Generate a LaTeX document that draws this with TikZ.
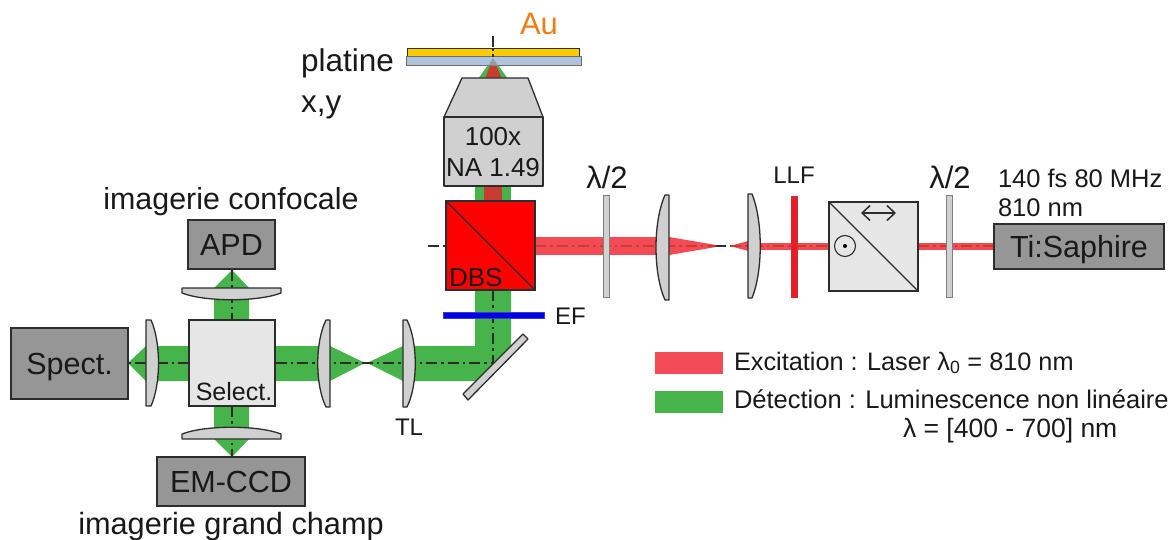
\documentclass[tikz,border=0pt]{standalone}
\usepackage{fontspec}
\setmainfont{Liberation Sans}
\usetikzlibrary{arrows.meta}
\definecolor{beamgreen}{RGB}{70,180,74}
\definecolor{beamred}{RGB}{243,75,85}
\definecolor{darkred}{RGB}{200,60,50}
\definecolor{edge}{RGB}{45,45,45}
\definecolor{optgray}{RGB}{208,208,208}
\definecolor{boxgray}{RGB}{150,150,150}
\definecolor{cubegray}{RGB}{230,230,230}
\tikzset{
  boxlabel/.style={font=\fontsize{#1}{#1}\selectfont,anchor=base,inner sep=0pt,outer sep=0pt,text=black!90},
  instr/.style={draw=edge,line width=1.3pt,fill=boxgray},
  optic/.style={draw=edge,line width=1.3pt,fill=optgray,line join=round},
  plate/.style={draw=black!50,line width=1pt,fill=optgray},
  axisline/.style={line width=1.3pt,draw=edge,dash pattern=on 11pt off 4pt on 2.5pt off 4pt},
  axisred/.style={line width=1.3pt,draw=darkred,dash pattern=on 11pt off 4pt on 2.5pt off 4pt},
  txt/.style={font=\fontsize{#1}{#1}\selectfont,inner sep=0pt,outer sep=0pt,text=black!90}
}
\newcommand{\instrbox}[6]{% name, x0,y0,x1,y1, text
  \draw[instr] (#2,#3) rectangle (#4,#5);
  \node[boxlabel=30.5] (#1) at ({(#2+#4)/2},{(#3+#5)/2+11}) {#6};
}
\begin{document}
\begin{tikzpicture}[x=1pt,y=-1pt]
\useasboundingbox (0,0) rectangle (1175,540);
% green beams
\fill[beamgreen] (493,58) -- (508,79) -- (478,79) -- cycle;
\fill[beamgreen] (475,186) rectangle (511,201);
\fill[beamgreen] (415,346) -- (475,346) -- (475,290) -- (511,290) -- (511,350) -- (479,381) -- (415,381) -- cycle;
\fill[beamgreen] (365,363) -- (330,346) -- (320,346) -- (275,346) -- (275,381) -- (330,381) -- cycle;
\fill[beamgreen] (367,363) -- (403,346) -- (403,381) -- cycle;
\fill[beamgreen] (128,363) -- (146,346) -- (189,346) -- (189,381) -- (146,381) -- cycle;
\fill[beamgreen] (232,270) -- (249,288) -- (249,320) -- (214,320) -- (214,288) -- cycle;
\fill[beamgreen] (214,406) rectangle (249,439);
\fill[beamgreen] (214,439) -- (249,439) -- (232,457) -- cycle;
% red beams
\fill[darkred] (493,58) -- (502,79) -- (485,79) -- cycle;
\fill[darkred] (484,186) rectangle (502,201);
\fill[beamred] (535,237) rectangle (660,255);
\fill[beamred] (669,237) -- (722,246) -- (669,255) -- cycle;
\fill[beamred] (730,246) -- (748,241) -- (748,251) -- cycle;
\fill[beamred] (759,243) rectangle (829,250);
\fill[beamred] (918,243) rectangle (994,250);
% axes
\coordinate (axTop) at (493,36);
\coordinate (axObj) at (493,64);
\coordinate (axRedA) at (493,186);
\coordinate (axRedB) at (493,201);
\coordinate (axLeftA) at (428,246);
\coordinate (axLeftB) at (446,246);
\coordinate (axBendV) at (493,290);
\coordinate (axBend) at (493,363);
\coordinate (axSel) at (275,363);
\coordinate (axSelL) at (189,363);
\coordinate (axSpec) at (128,363);
\draw[axisline] (axTop) -- (axObj);
\draw[axisred] (axRedA) -- (axRedB);
\draw[axisline] (axLeftA) -- (axLeftB);
\draw[axisline] (axBendV) -- (axBend) -- (axSel);
\draw[axisline] (axSelL) -- (axSpec);
\draw[axisline] (232,270) -- (232,320);
\draw[axisline] (232,406) -- (232,457);
\draw[axisred] (535,246) -- (722,246);
\draw[axisline] (716,246) -- (726,246);
\draw[axisred] (730,246) -- (829,246);
\draw[axisred] (918,246) -- (994,246);
% sample
\draw[fill={rgb,255:red,255;green,204;blue,0},draw=edge,line width=1pt] (407,49) rectangle (579,57);
\draw[fill={rgb,255:red,176;green,196;blue,222},draw=edge!70,line width=1pt] (406,57) rectangle (581,66);
\fill[black!45,opacity=.7] (493,58) -- (498,66) -- (488,66) -- cycle;
\draw[line width=1.2pt,edge,dash pattern=on 3pt off 3pt] (493,48) -- (493,58);
% objective
\draw[optic] (462,78) -- (528,78) -- (543,117) -- (444,117) -- cycle;
\draw[optic] (444,117) rectangle (543,186);
\node[boxlabel=26] (obj1) at (493,146) {100x};
\node[boxlabel=26] (obj2) at (493,177) {NA 1.49};
% DBS
\draw[draw=edge,line width=1.4pt,fill=red] (446,201) rectangle (535,290);
\draw[edge,line width=1.3pt] (446,201) -- (535,290);
\node[boxlabel=26,anchor=base west] (dbs) at (449,286) {DBS};
% EF
\draw[draw={rgb,255:red,60;green,60;blue,200},fill={rgb,255:red,0;green,0;blue,230},line width=.6pt] (443,312) rectangle (544,318);
\node[txt=24,anchor=base west] (ef) at (555,324) {EF};
% mirror
\draw[optic] (523,334) -- (528,339) -- (468,400) -- (463,394) -- cycle;
% half-wave plates, filter
\draw[plate] (603,196) rectangle (609,297);
\draw[plate] (946,196) rectangle (952,297);
\draw[draw=red!70!black!80,fill={rgb,255:red,237;green,28;blue,36},line width=.5pt] (791,196) rectangle (797,297);
% lenses
\draw[optic] (669,195) -- (665,195) .. controls (653,222) and (653,273) .. (665,300) -- (669,300) -- cycle;
\draw[optic] (748,194) -- (752,194) .. controls (763,221) and (763,271) .. (752,298) -- (748,298) -- cycle;
\draw[optic] (330,320) -- (326,320) .. controls (315,342) and (315,385) .. (326,407) -- (330,407) -- cycle;
\draw[optic] (403,320) -- (407,320) .. controls (418,342) and (418,385) .. (407,407) -- (403,407) -- cycle;
\draw[optic] (146,320) -- (151,320) .. controls (161,342) and (161,384) .. (151,406) -- (146,406) -- cycle;
\draw[optic] (182,288) -- (182,293) .. controls (205,302) and (258,302) .. (281,293) -- (281,288) -- cycle;
\draw[optic] (182,439) -- (182,434) .. controls (205,425) and (258,425) .. (281,434) -- (281,439) -- cycle;
% polarising cube
\draw[draw=edge,line width=1.2pt,fill=cubegray] (829,202) rectangle (918,291);
\draw[edge,line width=1.2pt] (829,202) -- (918,291);
\draw[edge,line width=1.5pt,{Straight Barb[length=8pt,width=15pt]}-{Straight Barb[length=8pt,width=15pt]}] (861,213) -- (896,213);
\draw[edge,line width=1.1pt] (845,246) circle (10.5);
\fill[black] (845,246) circle (2);
% select cube
\draw[draw=edge,line width=1.2pt,fill=cubegray] (189,320) rectangle (275,406);
\node[boxlabel=25] (sel) at (234,400) {Select.};
% instruments
\instrbox{tisa}{994}{224}{1164}{269}{Ti:Saphire}
\instrbox{apd}{188}{220}{275}{269}{APD}
\instrbox{spect}{11}{328}{128}{399}{Spect.}
\instrbox{ccd}{157}{457}{305}{506}{EM-CCD}
% labels
\node[txt=31,text={rgb,255:red,240;green,125;blue,20},anchor=base] (au) at (539,35) {Au};
\node[txt=31.5,anchor=base west] (pl1) at (301,72) {platine};
\node[txt=31.5,anchor=base west] (pl2) at (301,113) {x,y};
\node[txt=30.4,anchor=base] (conf) at (231,210) {imagerie confocale};
\node[txt=30.7,anchor=base] (wide) at (231,534) {imagerie grand champ};
\node[txt=31,anchor=base] (hw1) at (607,189) {λ/2};
\node[txt=31,anchor=base] (hw2) at (950,189) {λ/2};
\node[txt=24,anchor=base] (llf) at (794,184) {LLF};
\node[txt=24,anchor=base] (tl) at (409,435) {TL};
\node[txt=25.5,anchor=base west] (rep1) at (998,188) {140 fs 80 MHz};
\node[txt=25.5,anchor=base west] (rep2) at (998,217) {810 nm};
% legend
\fill[beamred] (655,352) rectangle (723,374);
\fill[beamgreen] (655,391) rectangle (723,413);
\node[txt=25.3,anchor=base west] (leg1) at (734,370) {Excitation : Laser λ\textsubscript{0} = 810 nm};
\node[txt=25.5,anchor=base west] (leg2) at (734,408) {Détection : Luminescence non linéaire};
\node[txt=26.5,anchor=base west] (leg3) at (903,437) {λ = [400 - 700] nm};
\end{tikzpicture}
\end{document}
